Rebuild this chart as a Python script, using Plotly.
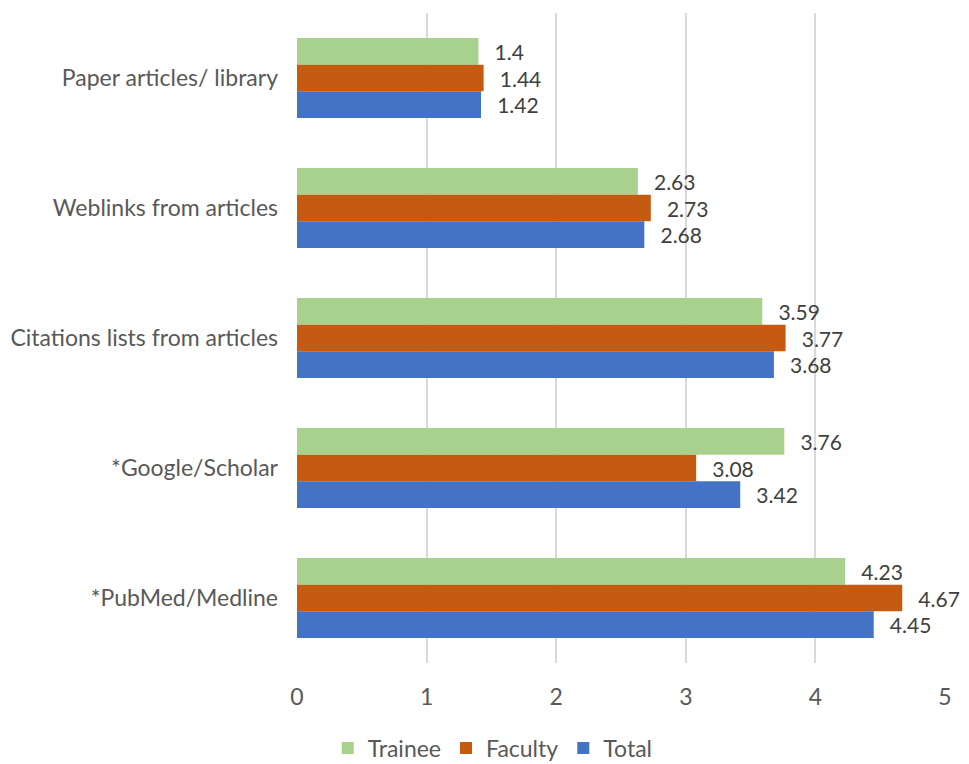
import plotly.graph_objects as go

categories = ["Paper articles/ library", "Weblinks from articles", "Citations lists from articles",
              "*Google/Scholar", "*PubMed/Medline"]
trainee = [1.4, 2.63, 3.59, 3.76, 4.23]
faculty = [1.44, 2.73, 3.77, 3.08, 4.67]
total = [1.42, 2.68, 3.68, 3.42, 4.45]
series_names = ["Trainee", "Faculty", "Total"]
colors = ["#A9D18E", "#C55A11", "#4472C4"]

FONT = "Lato, 'Open Sans', sans-serif"
TXT = "#404040"

fig = go.Figure()
for name, vals, col in zip(series_names, [trainee, faculty, total], colors):
    fig.add_trace(go.Bar(
        y=categories, x=vals, name=name, orientation="h",
        marker=dict(color=col, line=dict(width=0)),
        text=[f"\u2002\u2009{v:g}" for v in vals], textposition="outside",
        textfont=dict(family=FONT, size=21, color=TXT),
        cliponaxis=False,
    ))

fig.update_layout(
    width=961, height=756,
    paper_bgcolor="white", plot_bgcolor="white",
    barmode="group", bargap=0.385, bargroupgap=0,
    margin=dict(l=289, r=24, t=5, b=101, autoexpand=False),
    font=dict(family=FONT, size=23, color=TXT),
    xaxis=dict(range=[0, 5], dtick=1, showgrid=True, gridcolor="#D9D9D9", gridwidth=1.5,
               zeroline=False, showline=False, ticklabelstandoff=18,
               tickfont=dict(family=FONT, size=23, color="#595959")),
    yaxis=dict(autorange="reversed", showgrid=False, showline=False, zeroline=False,
               ticklabelstandoff=18,
               tickfont=dict(family=FONT, size=23, color="#595959")),
    legend=dict(orientation="h", x=0.302, xanchor="center", y=-0.1308, yanchor="middle",
                font=dict(family=FONT, size=23, color="#595959"), traceorder="normal"),
)

fig.write_html("out.html")
